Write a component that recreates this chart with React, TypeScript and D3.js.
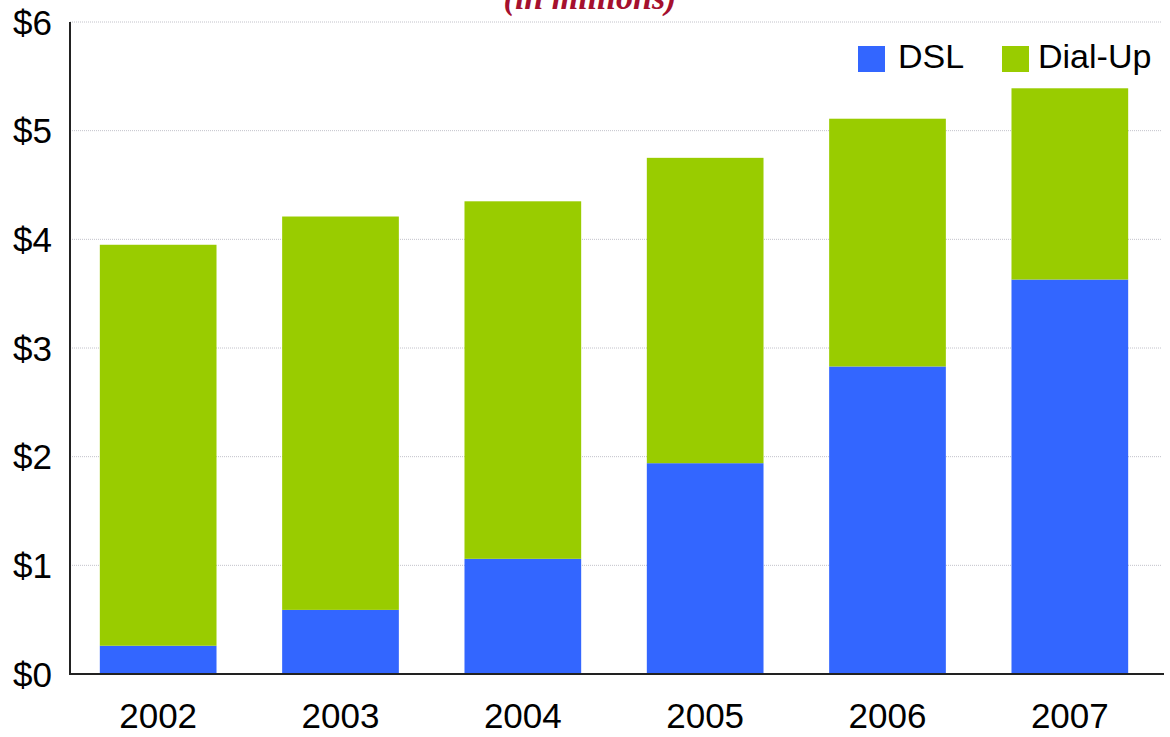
import React from "react";
import * as d3 from "d3";

// Revenue by connection type, in millions of dollars
const years = ["2002", "2003", "2004", "2005", "2006", "2007"];
const dslValues = [0.26, 0.59, 1.06, 1.94, 2.83, 3.63];
const dialUpValues = [3.69, 3.62, 3.29, 2.81, 2.28, 1.76];
const seriesNames = ["DSL", "Dial-Up"];
const seriesColors = ["#3366FF", "#99CC00"];
const yTicks = [0, 1, 2, 3, 4, 5, 6];

const W = 1170;
const H = 737;
const axisLeft = 70;
const axisRight = 1164;
const yBottom = 674;
const yTop = 22;
const font = "'Liberation Sans', Arial, sans-serif";

export default function App() {
  const rows = years.map((y, i) => ({
    year: y,
    DSL: dslValues[i],
    "Dial-Up": dialUpValues[i],
  }));
  const stacked = d3.stack<any>().keys(seriesNames)(rows);

  const x = d3
    .scaleBand<string>()
    .domain(years)
    .range([67, 1161])
    .paddingInner(0.36)
    .paddingOuter(0.18);
  const y = d3.scaleLinear().domain([0, 6]).range([yBottom, yTop]);
  const color = d3.scaleOrdinal<string, string>().domain(seriesNames).range(seriesColors);

  const legend = [
    { name: "DSL", sx: 858, tx: 898 },
    { name: "Dial-Up", sx: 1002, tx: 1038 },
  ];

  return (
    <svg
      width={W}
      height={H}
      style={{ position: "absolute", left: 0, top: 0, background: "#fff" }}
    >
      {/* gridlines */}
      {yTicks.slice(1).map((t) => (
        <line
          key={"g" + t}
          x1={axisLeft}
          x2={axisRight - 2}
          y1={y(t)}
          y2={y(t)}
          stroke="#c2c2ca"
          strokeWidth={1}
          strokeDasharray="1,1"
        />
      ))}

      {/* stacked bars */}
      {stacked.map((layer) => (
        <g key={layer.key} fill={color(layer.key)}>
          {layer.map((d, i) => (
            <rect
              key={years[i]}
              x={x(years[i])}
              width={x.bandwidth()}
              y={y(d[1])}
              height={y(d[0]) - y(d[1])}
            />
          ))}
        </g>
      ))}

      {/* axes */}
      <line x1={axisLeft} x2={axisLeft} y1={yTop} y2={yBottom} stroke="#222" strokeWidth={2} />
      <line x1={axisLeft - 1} x2={axisRight} y1={yBottom} y2={yBottom} stroke="#222" strokeWidth={2} />

      {/* y tick labels */}
      {yTicks.map((t) => (
        <text
          key={"t" + t}
          x={52}
          y={y(t)}
          dy="0.36em"
          textAnchor="end"
          fontFamily={font}
          fontSize={35}
          fill="#000"
        >
          {"$" + t}
        </text>
      ))}

      {/* x tick labels */}
      {years.map((yr) => (
        <text
          key={"x" + yr}
          x={(x(yr) as number) + x.bandwidth() / 2}
          y={728}
          textAnchor="middle"
          fontFamily={font}
          fontSize={35}
          fill="#000"
        >
          {yr}
        </text>
      ))}

      {/* subtitle, sitting at the top edge */}
      <text
        x={590}
        y={9}
        textAnchor="middle"
        fontFamily="'Liberation Serif', 'Times New Roman', serif"
        fontStyle="italic"
        fontWeight="bold"
        fontSize={34}
        fill="#A5102E"
      >
        (in millions)
      </text>

      {/* legend */}
      {legend.map((l) => (
        <g key={l.name}>
          <rect x={l.sx} y={46} width={27} height={26} fill={color(l.name)} />
          <text x={l.tx} y={68} fontFamily={font} fontSize={34} fill="#000">
            {l.name}
          </text>
        </g>
      ))}
    </svg>
  );
}
